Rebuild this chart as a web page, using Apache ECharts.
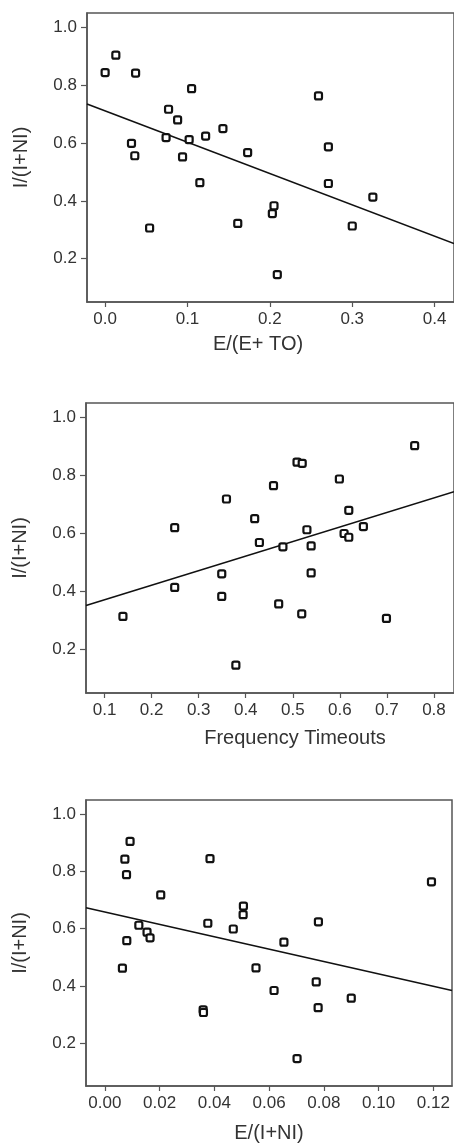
<!DOCTYPE html>
<html>
<head>
<meta charset="utf-8">
<script src="https://cdn.jsdelivr.net/npm/echarts@6/dist/echarts.min.js"></script>
<style>
  html, body { margin: 0; padding: 0; background: #fff; }
  #chart { width: 454px; height: 1144px; }
</style>
</head>
<body>
<div id="chart"></div>
<script>
// panel 1: E/(E+ TO)
const p1X = [0.000, 0.013, 0.037, 0.105, 0.259, 0.077, 0.088, 0.143, 0.122, 0.074, 0.102, 0.032, 0.271,
  0.173, 0.036, 0.094, 0.115, 0.271, 0.325, 0.205, 0.203, 0.161, 0.300, 0.054, 0.209]
const p1Y = [0.844, 0.904, 0.842, 0.788, 0.763, 0.717, 0.680, 0.650, 0.624, 0.619, 0.612, 0.599, 0.587,
  0.567, 0.556, 0.552, 0.463, 0.460, 0.413, 0.383, 0.356, 0.322, 0.313, 0.306, 0.145]
const p1FitX = [-0.022, 0.4235]
const p1FitY = [0.735, 0.252]
const p1Ticks = [0.0, 0.1, 0.2, 0.3, 0.4]

// panel 2: Frequency Timeouts
const p2X = [0.759, 0.509, 0.520, 0.599, 0.459, 0.359, 0.619, 0.419, 0.249, 0.530, 0.650, 0.609, 0.619,
  0.429, 0.479, 0.539, 0.349, 0.539, 0.249, 0.349, 0.470, 0.519, 0.139, 0.699, 0.379]
const p2Y = [0.903, 0.846, 0.842, 0.788, 0.765, 0.719, 0.680, 0.651, 0.620, 0.613, 0.624, 0.600, 0.587,
  0.569, 0.554, 0.557, 0.461, 0.464, 0.414, 0.383, 0.357, 0.323, 0.314, 0.307, 0.146]
const p2FitX = [0.0605, 0.8426]
const p2FitY = [0.352, 0.744]
const p2Ticks = [0.1, 0.2, 0.3, 0.4, 0.5, 0.6, 0.7, 0.8]

// panel 3: E/(I+NI)
const p3X = [0.0092, 0.0073, 0.0384, 0.0079, 0.1193, 0.0204, 0.0506, 0.0505, 0.0780, 0.0376, 0.0124, 0.0469, 0.0154,
  0.0165, 0.0080, 0.0654, 0.0064, 0.0552, 0.0772, 0.0618, 0.0900, 0.0779, 0.0359, 0.0360, 0.0702]
const p3Y = [0.905, 0.843, 0.845, 0.789, 0.764, 0.718, 0.679, 0.649, 0.624, 0.619, 0.612, 0.599, 0.588,
  0.568, 0.558, 0.553, 0.462, 0.463, 0.414, 0.384, 0.357, 0.324, 0.316, 0.307, 0.146]
const p3FitX = [-0.0069, 0.1268]
const p3FitY = [0.673, 0.384]
const p3Ticks = [0.00, 0.02, 0.04, 0.06, 0.08, 0.10, 0.12]

const yTicks = [0.2, 0.4, 0.6, 0.8, 1.0]

const FONT = 'Liberation Sans, Arial, sans-serif'
const AXIS = '#555'
const TEXT = '#333'

const zip = (xs, ys) => xs.map((x, i) => [x, ys[i]])

const makeX = (idx, min, max, ticks, digits, name, gap, pad) => ({
  type: 'value',
  gridIndex: idx,
  min: min,
  max: max,
  name: name,
  nameLocation: 'middle',
  nameGap: gap,
  nameTextStyle: { fontFamily: FONT, fontSize: 20, color: TEXT, padding: pad },
  axisLine: { show: true, onZero: false, lineStyle: { color: AXIS, width: 1.5 } },
  axisTick: { show: true, length: 5, customValues: ticks, lineStyle: { color: AXIS, width: 1.2 } },
  axisLabel: {
    customValues: ticks,
    margin: 9,
    fontFamily: FONT,
    fontSize: 17,
    color: TEXT,
    formatter: (v) => v.toFixed(digits)
  },
  splitLine: { show: false }
})

const makeY = (idx) => ({
  type: 'value',
  gridIndex: idx,
  min: 0.05,
  max: 1.05,
  name: 'I/(I+NI)',
  nameLocation: 'middle',
  nameGap: 56,
  nameTextStyle: { fontFamily: FONT, fontSize: 20, color: TEXT },
  axisLine: { show: true, onZero: false, lineStyle: { color: AXIS, width: 1.5 } },
  axisTick: { show: true, length: 6, customValues: yTicks, lineStyle: { color: AXIS, width: 1.2 } },
  axisLabel: {
    customValues: yTicks,
    margin: 10,
    fontFamily: FONT,
    fontSize: 17,
    color: TEXT,
    formatter: (v) => v.toFixed(1)
  },
  splitLine: { show: false }
})

const makeScatter = (idx, xs, ys) => ({
  type: 'scatter',
  xAxisIndex: idx,
  yAxisIndex: idx,
  symbol: 'roundRect',
  symbolSize: 7,
  itemStyle: { color: '#fff', borderColor: '#111', borderWidth: 2.2, opacity: 1 },
  z: 3,
  data: zip(xs, ys)
})

const makeFit = (idx, xs, ys) => ({
  type: 'line',
  xAxisIndex: idx,
  yAxisIndex: idx,
  symbol: 'none',
  clip: true,
  lineStyle: { color: '#111', width: 1.6 },
  z: 2,
  data: zip(xs, ys)
})

const chart = echarts.init(document.getElementById('chart'))

const option = {
  backgroundColor: '#fff',
  animation: false,
  grid: [
    { left: 87, top: 13, width: 369, height: 289, show: true, borderColor: AXIS, borderWidth: 1.5 },
    { left: 86, top: 403, width: 370, height: 290, show: true, borderColor: AXIS, borderWidth: 1.5 },
    { left: 86, top: 800, width: 366, height: 287, show: true, borderColor: AXIS, borderWidth: 1.5 }
  ],
  xAxis: [
    makeX(0, -0.022, 0.4235, p1Ticks, 1, 'E/(E+ TO)', 32, [0, 25, 0, 0]),
    makeX(1, 0.0605, 0.8426, p2Ticks, 1, 'Frequency Timeouts', 35, [0, 0, 0, 50]),
    makeX(2, -0.0069, 0.1268, p3Ticks, 2, 'E/(I+NI)', 37, [0, 0, 0, 0])
  ],
  yAxis: [makeY(0), makeY(1), makeY(2)],
  series: [
    makeFit(0, p1FitX, p1FitY),
    makeScatter(0, p1X, p1Y),
    makeFit(1, p2FitX, p2FitY),
    makeScatter(1, p2X, p2Y),
    makeFit(2, p3FitX, p3FitY),
    makeScatter(2, p3X, p3Y)
  ]
}

option && chart.setOption(option)
</script>
</body>
</html>
